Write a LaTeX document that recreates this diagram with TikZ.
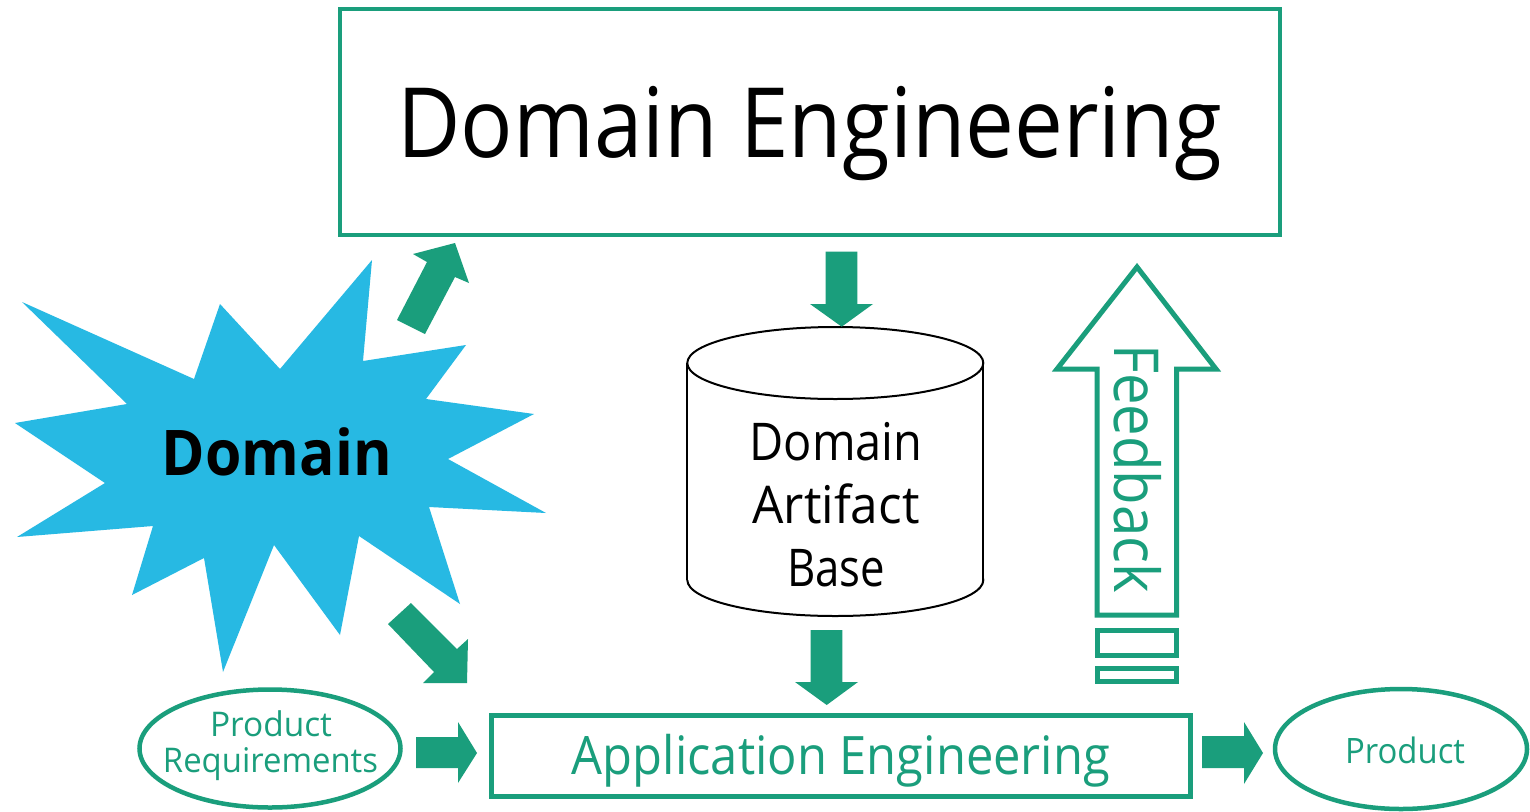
\documentclass[tikz,border=0pt]{standalone}
\usepackage{fontspec}
\setmainfont{Open Sans}
\usetikzlibrary{shapes.geometric}
\definecolor{dgreen}{RGB}{26,158,124}
\definecolor{sblue}{RGB}{39,185,227}
\newcommand{\fw}[3]{\resizebox{#1pt}{\height}{\fontsize{#2pt}{#2pt}\selectfont #3}}
\begin{document}
\begin{tikzpicture}[x=1pt,y=-1pt,
  gbox/.style={draw=dgreen, line width=4.5pt, inner sep=0pt, rectangle},
  gell/.style={draw=dgreen, line width=4.5pt, ellipse, inner sep=0pt},
  txt/.style={anchor=base, inner sep=0pt},
  blockarrow/.style={fill=dgreen, draw=none},
  gtxt/.style={txt, text=dgreen}]
\useasboundingbox[fill=white] (0,0) rectangle (1530,811);

% starburst
\fill[sblue] (22,302) -- (194,379) -- (220,304) -- (280,369) -- (372,260) -- (363,361)
  -- (466,345) -- (426,399) -- (534,414) -- (448,459) -- (546,513) -- (429,507)
  -- (460,604) -- (359,536) -- (340,635) -- (274,545) -- (223,672) -- (204,558)
  -- (132,595) -- (153,526) -- (17,537) -- (105,483) -- (15,423) -- (127,404) -- cycle;
\node[txt] (dom) at (277,475) {\fw{230}{63}{\bfseries Domain}};

% Domain Engineering box
\node[gbox, minimum width=940pt, minimum height=226pt] (de) at (810,122) {};
\node[txt] (det) at (809.5,157) {\fw{825}{97}{Domain Engineering}};

% Application Engineering box
\node[gbox, minimum width=699pt, minimum height=81pt] (ae) at (841,756) {};
\node[gtxt] (aet) at (841,774) {\fw{538}{53}{Application Engineering}};

% ellipses
\node[gell, minimum width=261pt, minimum height=118pt] (pr) at (270,748.5) {};
\node[gtxt] (prt1) at (271,736) {\fw{122}{34}{Product}};
\node[gtxt] (prt2) at (270.5,772) {\fw{215}{34}{Requirements}};
\node[gell, minimum width=252pt, minimum height=120pt] (pd) at (1401,749) {};
\node[gtxt] (pdt) at (1405,763) {\fw{120}{35}{Product}};

% cylinder
\draw[black, line width=2pt] (835.3,580) ellipse (148 and 36);
\fill[white] (687.3,363) rectangle (983.3,580);
\draw[black, line width=2pt] (687.3,363) -- (687.3,580) (983.3,363) -- (983.3,580);
\draw[black, line width=2pt, fill=white] (835.3,363) ellipse (148 and 36);
\node[txt] (dbt1) at (836,460) {\fw{173}{52}{Domain}};
\node[txt] (dbt2) at (836,523) {\fw{167}{52}{Artifact}};
\node[txt] (dbt3) at (836,586) {\fw{98}{52}{Base}};

% block arrows
\fill[blockarrow] (825.7,251.7) -- (857.3,251.7) -- (857.3,304) -- (873,304) -- (841.7,326.7)
  -- (810,304) -- (825.7,304) -- cycle;
\fill[blockarrow] (810.7,630) -- (842.3,630) -- (842.3,682) -- (858,682) -- (826.7,705)
  -- (795,682) -- (810.7,682) -- cycle;
\fill[blockarrow] (416,737) -- (458,737) -- (458,722) -- (477,753) -- (458,783)
  -- (458,768) -- (416,768) -- cycle;
\fill[blockarrow] (1202,736) -- (1244,736) -- (1244,722) -- (1263,753) -- (1244,784)
  -- (1244,768) -- (1202,768) -- cycle;
\fill[blockarrow] (397,320) -- (427,262) -- (413,254) -- (455,243) -- (469,283)
  -- (455,277) -- (425,334) -- cycle;
\fill[blockarrow] (388,624) -- (411,603) -- (457,649) -- (468,639) -- (467,683)
  -- (423,683) -- (434,672) -- cycle;

% feedback arrow
\draw[dgreen, line width=5pt, line join=miter] (1137,267) -- (1216,369) -- (1176.5,369) -- (1176.5,615)
  -- (1097,615) -- (1097,369) -- (1057,369) -- cycle;
\draw[dgreen, line width=5pt] (1097,630) rectangle (1176.5,655);
\draw[dgreen, line width=5pt] (1097,668.7) rectangle (1176.5,681);
\node[gtxt, rotate=-90] (fbt) at (1114,468.5) {\fw{249}{62}{Feedback}};
\end{tikzpicture}
\end{document}
